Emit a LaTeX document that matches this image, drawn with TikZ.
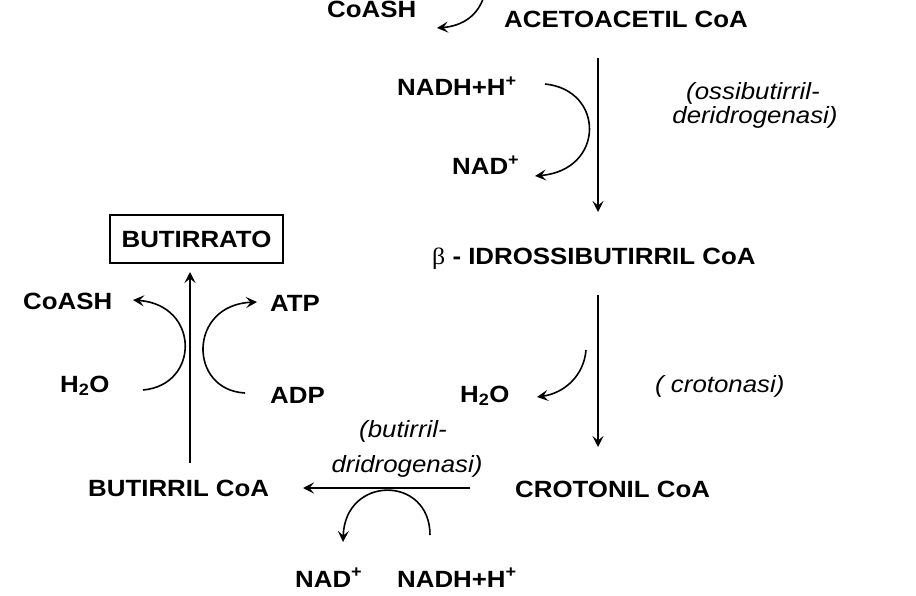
\documentclass[tikz,border=0pt]{standalone}
\usepackage{fontspec}
\setmainfont{Liberation Sans}[FakeStretch=1.1]
\newfontfamily\betafont{Liberation Serif}[FakeStretch=1.1]
\usetikzlibrary{arrows.meta}
\begin{document}
\begin{tikzpicture}[x=1pt,y=-1pt,
  lbl/.style={inner sep=0pt, font=\fontsize{23.5}{28}\selectfont\bfseries},
  enz/.style={inner sep=0pt, font=\fontsize{23.5}{28}\selectfont\itshape},
  arr/.style={line width=1.6pt, -{Stealth[length=11pt,width=11pt,inset=4.5pt]}},
]
\useasboundingbox[fill=white] (0,0) rectangle (916,596);

% labels
\node[lbl, anchor=base west] (coashT) at (327,18) {CoASH};
\node[lbl, anchor=base west] (aceto) at (504,28) {ACETOACETIL CoA};
\node[lbl, anchor=base west] (nadhT) at (397,96) {NADH+H\textsuperscript{+}};
\node[lbl, anchor=base west] (nadT) at (452,175) {NAD\textsuperscript{+}};
\node[enz, anchor=base] (ossiA) at (753,100) {(ossibutirril-};
\node[enz, anchor=base] (ossiB) at (755,124) {deridrogenasi)};
\node[lbl, anchor=base west] (idross) at (432,265) {{\betafont\mdseries β} - IDROSSIBUTIRRIL CoA};
\node[lbl, anchor=base west] (h2oM) at (460,402) {H\textsubscript{2}O};
\node[enz, anchor=base west] (croto) at (655,392) {( crotonasi)};
\node[lbl, anchor=base west] (crotonil) at (515,497) {CROTONIL CoA};
\node[enz, anchor=base] (butA) at (403,437) {(butirril-};
\node[enz, anchor=base] (butB) at (407,472) {dridrogenasi)};
\node[lbl, anchor=base west] (butcoa) at (88,496) {BUTIRRIL CoA};
\node[lbl, draw, line width=1.4pt, minimum width=173pt, minimum height=48pt] (butrato) at (196.5,239) {BUTIRRATO};
\node[lbl, anchor=base west] (coashL) at (23,309) {CoASH};
\node[lbl, anchor=base west] (atp) at (270,312) {ATP};
\node[lbl, anchor=base west] (h2oL) at (60,392) {H\textsubscript{2}O};
\node[lbl, anchor=base west] (adp) at (270,403) {ADP};
\node[lbl, anchor=base west] (nadB) at (295,587) {NAD\textsuperscript{+}};
\node[lbl, anchor=base west] (nadhB) at (397,587) {NADH+H\textsuperscript{+}};

% connector end points
\coordinate (c1s) at (484,-4);   \coordinate (c1e) at (437,28);
\coordinate (a1s) at (598,58);   \coordinate (a1e) at (598,212);
\coordinate (c2s) at (545,84);   \coordinate (c2e) at (535,176);
\coordinate (a2s) at (598,295);  \coordinate (a2e) at (598,447);
\coordinate (c3s) at (586,350);  \coordinate (c3e) at (537,397);
\coordinate (a3s) at (470,488);  \coordinate (a3e) at (303,488);
\coordinate (c4s) at (430,535);  \coordinate (c4e) at (343,542);
\coordinate (a4s) at (190,463);  \coordinate (a4e) at (190,272);
\coordinate (c5s) at (143,390);  \coordinate (c5e) at (133,300);
\coordinate (c6s) at (245,393);  \coordinate (c6e) at (257,302);

% connectors
\draw[arr] (c1s) .. controls (478,16) and (462,26) .. (c1e);
\draw[arr] (a1s) -- (a1e);
\draw[arr] (c2s) .. controls (605,90) and (605,170) .. (c2e);
\draw[arr] (a2s) -- (a2e);
\draw[arr] (c3s) .. controls (584,375) and (565,393) .. (c3e);
\draw[arr] (a3s) -- (a3e);
\draw[arr] (c4s) .. controls (430,475) and (345,475) .. (c4e);
\draw[arr] (a4s) -- (a4e);
\draw[arr] (c5s) .. controls (200,385) and (200,305) .. (c5e);
\draw[arr] (c6s) .. controls (188,390) and (188,305) .. (c6e);
\end{tikzpicture}
\end{document}
